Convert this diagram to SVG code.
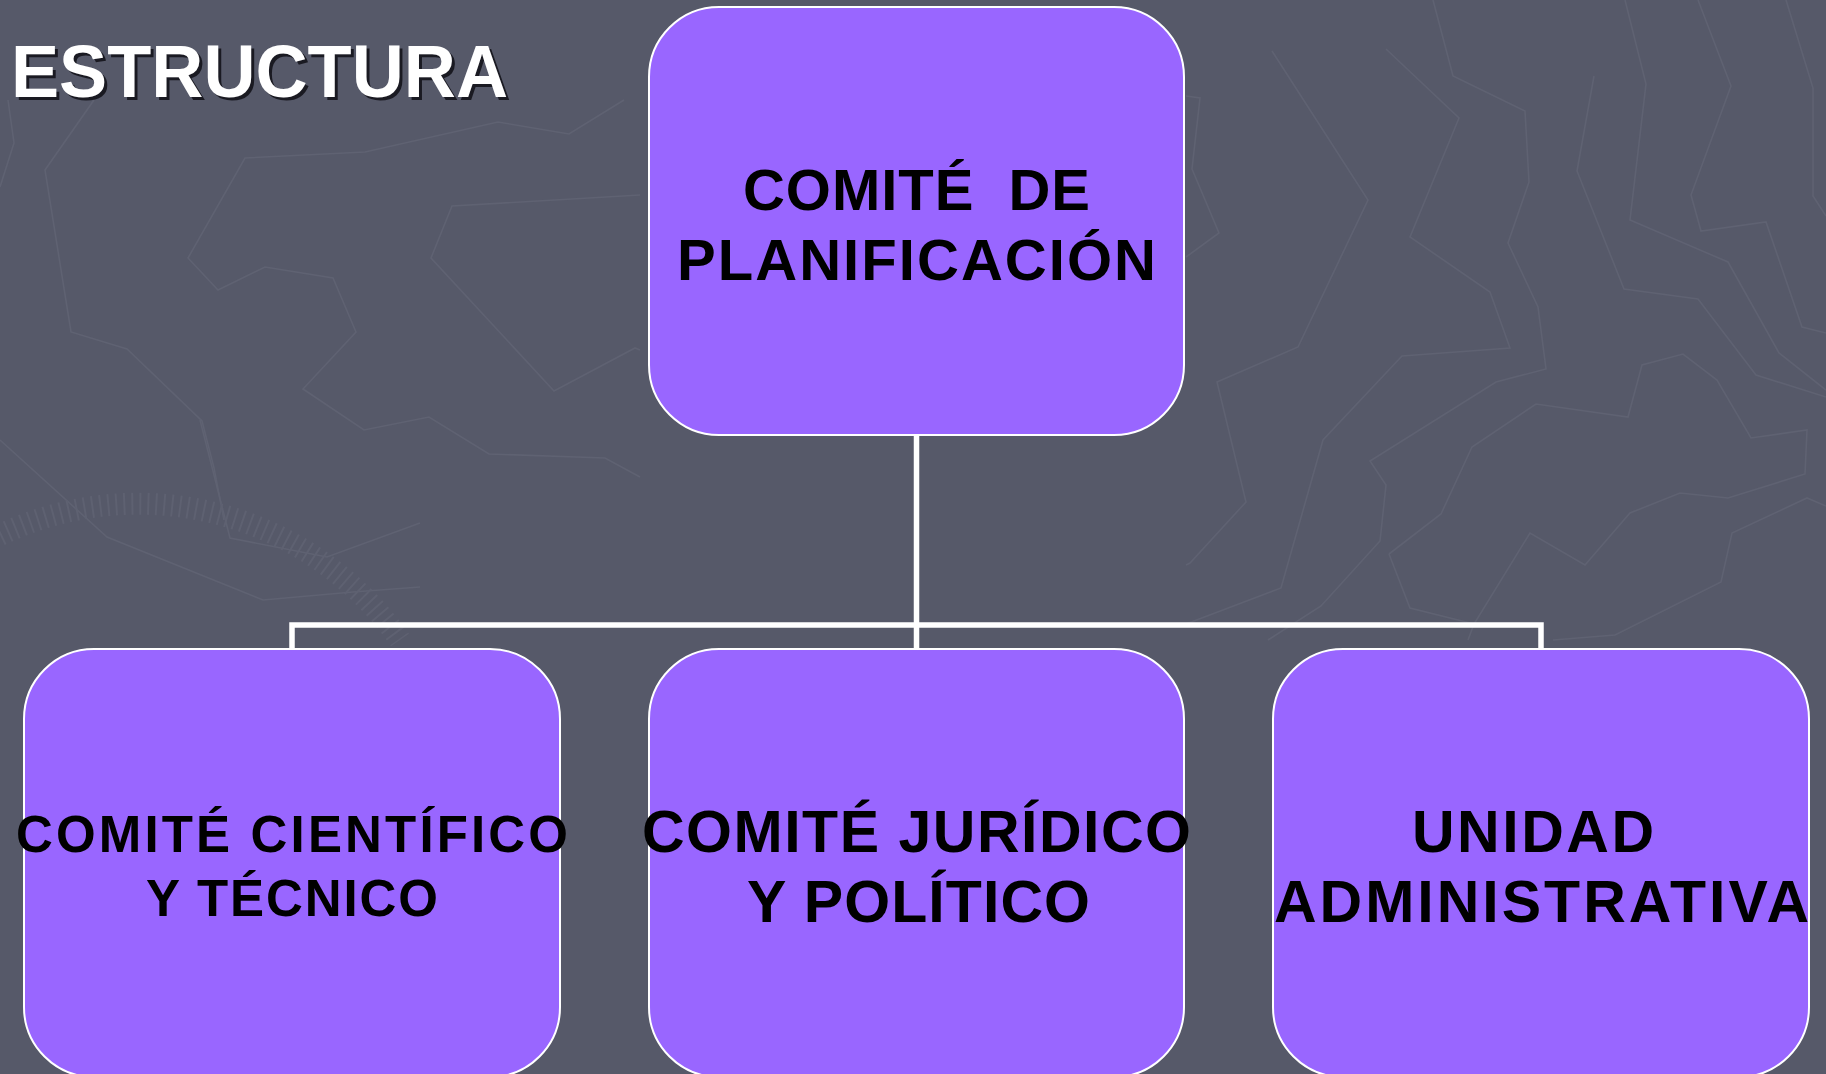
<svg xmlns="http://www.w3.org/2000/svg" width="1826" height="1074" viewBox="0 0 1826 1074">
<style>
.bg{fill:#565969}
.tex{fill:none;stroke:#5f6272;stroke-width:1.6;stroke-linejoin:miter}
.ticks{fill:none;stroke:#5e6171;stroke-width:22;stroke-dasharray:2 6}
.node rect{fill:#9966FF;stroke:#FFFFFF;stroke-width:2}
.lbl{font-family:"Liberation Sans",Arial,sans-serif;font-weight:bold;fill:#000000;white-space:pre}
.conn{fill:none;stroke:#FFFFFF;stroke-width:5.5}
.title{font-family:"Liberation Sans",Arial,sans-serif;font-weight:bold;font-size:75px}
</style>
<rect class="bg" x="0" y="0" width="1826" height="1074"/>
<g id="background-texture">
<polyline class="tex" points="8,100 14,143 0,187"/>
<polyline class="tex" points="94,100 45,170 71,332 127,349 202,421 214,468 224,520"/>
<polyline class="tex" points="624,100 569,134 498,122 365,152 245,158 188,258 218,290 265,267 333,278 356,332 303,389 364,430 429,417 489,454 605,458 640,477"/>
<polyline class="tex" points="640,195 452,206 431,258 554,391 635,348 640,350"/>
<polyline class="tex" points="0,440 107,537 263,600 353,592 420,587"/>
<polyline class="tex" points="200,420 230,538 327,557 420,523"/>
<polyline class="tex" points="1186,96 1200,98 1192,169 1219,233 1186,257"/>
<polyline class="tex" points="1272,51 1368,200 1298,347 1217,382 1246,502 1190,563 1186,565"/>
<polyline class="tex" points="1386,49 1459,118 1410,237 1490,292 1510,348 1402,356 1323,440 1281,588 1186,624"/>
<polyline class="tex" points="1433,0 1453,76 1525,111 1529,182 1508,243 1538,307 1546,369 1496,382 1370,461 1386,485 1380,541 1321,606 1268,640"/>
<polyline class="tex" points="1594,76 1577,171 1624,289 1698,299 1756,375 1826,397"/>
<polyline class="tex" points="1625,0 1646,84 1630,220 1728,262 1779,353 1826,390"/>
<polyline class="tex" points="1698,0 1731,86 1691,195 1701,231 1766,222 1802,327 1826,333"/>
<polyline class="tex" points="1786,0 1813,88 1813,196 1826,216"/>
<polyline class="tex" points="1389,554 1441,514 1472,447 1536,404 1628,417 1642,365 1683,354 1717,380 1751,438 1807,430 1805,474 1728,498 1680,493 1630,513 1585,565 1530,533 1474,624 1468,640"/>
<polyline class="tex" points="1389,554 1410,608 1474,624"/>
<polyline class="tex" points="1826,506 1807,498 1732,533 1721,582 1615,635 1553,640"/>
<path class="ticks" d="M0,535 A320,320 0 0 1 400,640"/>
</g>
<g id="title">
<text class="title" x="14" y="100" fill="#1a1a22" textLength="497" lengthAdjust="spacingAndGlyphs">ESTRUCTURA</text>
<text class="title" x="11" y="97" fill="#FFFFFF" textLength="497" lengthAdjust="spacingAndGlyphs">ESTRUCTURA</text>
</g>
<g id="connectors">
<path class="conn" d="M916.5,434 V625 M916.5,625 V649 M292,649 V625 H1541 V649"/>
</g>
<g id="node-planificacion" class="node">
<rect x="649" y="7" width="535" height="428" rx="70" ry="70"/>
<text class="lbl" x="743" y="210" font-size="58" textLength="347" lengthAdjust="spacing">COMITÉ  DE</text>
<text class="lbl" x="677" y="280" font-size="58" textLength="479" lengthAdjust="spacing">PLANIFICACIÓN</text>
</g>
<g id="node-cientifico" class="node">
<rect x="24" y="649" width="536" height="428" rx="70" ry="70"/>
<text class="lbl" x="16" y="852" font-size="51" textLength="552" lengthAdjust="spacing">COMITÉ CIENTÍFICO</text>
<text class="lbl" x="146" y="916" font-size="51" textLength="292" lengthAdjust="spacing">Y TÉCNICO</text>
</g>
<g id="node-juridico" class="node">
<rect x="649" y="649" width="535" height="428" rx="70" ry="70"/>
<text class="lbl" x="642" y="852" font-size="59" textLength="549" lengthAdjust="spacing">COMITÉ JURÍDICO</text>
<text class="lbl" x="747" y="922" font-size="59" textLength="343" lengthAdjust="spacing">Y POLÍTICO</text>
</g>
<g id="node-administrativa" class="node">
<rect x="1273" y="649" width="536" height="428" rx="70" ry="70"/>
<text class="lbl" x="1412" y="852" font-size="59" textLength="242" lengthAdjust="spacing">UNIDAD</text>
<text class="lbl" x="1274" y="922" font-size="59" textLength="535" lengthAdjust="spacing">ADMINISTRATIVA</text>
</g>
</svg>
